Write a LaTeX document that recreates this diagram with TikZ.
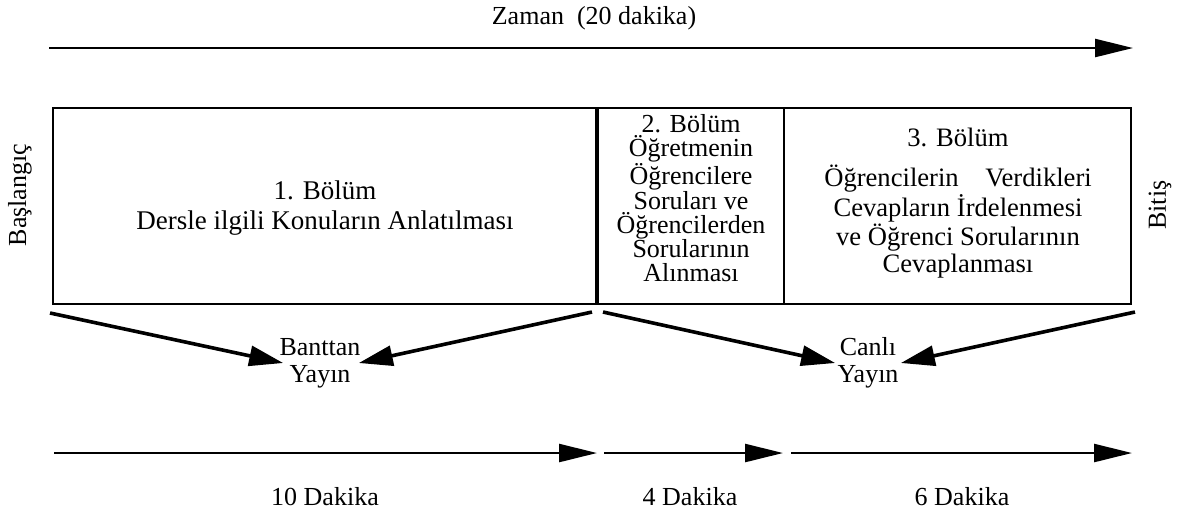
\documentclass[tikz,border=0pt]{standalone}
\usepackage{fontspec}
\setmainfont{Liberation Serif}
\usetikzlibrary{arrows.meta}
\begin{document}
\begin{tikzpicture}[x=0.5pt,y=-0.5pt,
  font=\fontsize{13}{15}\selectfont,
  bigtip/.style={-{Triangle[length=19pt,width=9pt]}},
  timeline/.style={bigtip,line width=1.2pt},
  feed/.style={-{Triangle[length=17pt,width=10pt]},line width=1.8pt},
  section/.style={draw,line width=1pt,minimum height=98pt,inner sep=0pt,align=center},
  label/.style={inner sep=0pt,align=center}]
\useasboundingbox (0,0) rectangle (1182,511);

% overall time axis
\node[label] (title) at (594,18) {Zaman\ \ (20 dakika)};
\coordinate (t0) at (49,48);
\coordinate (t1) at (1133,48);
\draw[timeline] (t0) -- (t1);

% the three sections of the lesson
\node[section,minimum width=272.5pt] (s1) at (325.5,206) {};
\node[section,minimum width=93pt] (s2) at (691,206) {};
\node[section,minimum width=173.5pt] (s3) at (957.5,206) {};
\draw[line width=2pt] (s2.north west) -- (s2.south west);

\node[label,font=\fontsize{13.5}{15}\selectfont] (b1) at (325,208)
  {1. Bölüm\\Dersle ilgili Konuların Anlatılması};
\node[label,font=\fontsize{13}{12.1}\selectfont] (b2) at (691,198)
  {2. Bölüm\\Öğretmenin\\Öğrencilere\\Soruları ve\\Öğrencilerden\\Sorularının\\Alınması};
\node[label,font=\fontsize{13.3}{13.5}\selectfont] (b3) at (958,203)
  {3. Bölüm\\[6.5pt]Öğrencilerin\quad Verdikleri\\Cevapların İrdelenmesi\\ve Öğrenci Sorularının\\Cevaplanması};

% start and end marks
\node[label,rotate=90] (start) at (20,195) {Başlangıç};
\node[label,rotate=90] (end) at (1160,205) {Bitiş};

% broadcast type
\node[label,font=\fontsize{13}{13.5}\selectfont] (tape) at (320,363) {Banttan\\Yayın};
\node[label,font=\fontsize{13}{13.5}\selectfont] (live) at (868,363) {Canlı\\Yayın};

\coordinate (a1) at (50,313);
\coordinate (a2) at (592,312);
\coordinate (a3) at (603,312);
\coordinate (a4) at (1135,312);
\draw[feed] (a1) -- ([xshift=2pt]tape.west);
\draw[feed] (a2) -- ([xshift=-1pt]tape.east);
\draw[feed] (a3) -- ([xshift=-1pt]live.west);
\draw[feed] (a4) -- ([xshift=1pt]live.east);

% durations
\coordinate (d0) at (54,453);
\coordinate (d1) at (597,453);
\coordinate (d2) at (604,453);
\coordinate (d3) at (783,453);
\coordinate (d4) at (791,453);
\coordinate (d5) at (1132,453);
\draw[timeline] (d0) -- (d1);
\draw[timeline] (d2) -- (d3);
\draw[timeline] (d4) -- (d5);

\node[label] (m1) at (325,497) {10 Dakika};
\node[label] (m2) at (690,497) {4 Dakika};
\node[label] (m3) at (962,497) {6 Dakika};
\end{tikzpicture}
\end{document}
